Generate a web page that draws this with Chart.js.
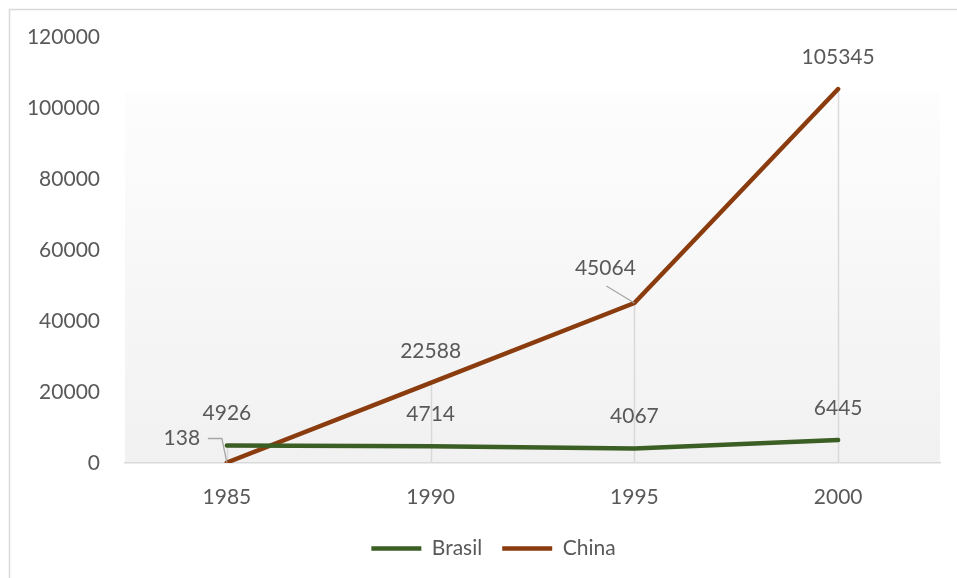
<!DOCTYPE html>
<html lang="pt">
    <head>
        <meta charset="utf-8">
        <title>Brasil x China</title>
        <script src="https://cdn.jsdelivr.net/npm/chart.js"></script>
        <style>
            html, body { margin: 0; padding: 0; background: #ffffff; }
            #wrap { width: 957px; height: 578px; position: relative; }
        </style>
    </head>
    <body>
        <div id="wrap"><canvas id="graph"></canvas></div>
        <script>
            // data
            var years = ['1985', '1990', '1995', '2000'];
            var brasil = [4926, 4714, 4067, 6445];
            var china = [138, 22588, 45064, 105345];
            var yTicks = [0, 20000, 40000, 60000, 80000, 100000, 120000];

            // where each value label sits relative to its point (px)
            var brasilLabelPos = [[0, -32], [0, -32], [0, -32], [0, -32]];
            var chinaLabelPos = [[-45, -24, 'leader138'], [0, -32], [-29, -35, 'leader'], [0, -32]];

            var textColor = '#595959';
            var fontFamily = 'Lato, "Open Sans", sans-serif';

            var decor = {
                id: 'decor',
                afterLayout: function(chart) {
                    // legend sits a little right of the canvas centre
                    chart.legend.left += 15;
                    chart.legend.right += 15;
                },
                beforeDraw: function(chart) {
                    var ctx = chart.ctx, a = chart.chartArea;
                    ctx.save();
                    var top = a.top + a.height * 0.13;
                    var g = ctx.createLinearGradient(0, top, 0, a.bottom);
                    g.addColorStop(0, '#fdfdfd');
                    g.addColorStop(1, '#f1f1f1');
                    ctx.fillStyle = g;
                    ctx.fillRect(a.left, top, a.right - a.left, a.bottom - top);
                    ctx.restore();
                },
                beforeDatasetsDraw: function(chart) {
                    // drop lines from the highest point down to the axis
                    var ctx = chart.ctx, a = chart.chartArea;
                    var x = chart.scales.x, y = chart.scales.y;
                    ctx.save();
                    ctx.strokeStyle = '#d9d9d9';
                    ctx.lineWidth = 1.5;
                    for (var i = 0; i < years.length; i++) {
                        var px = Math.round(x.getPixelForValue(i)) + 0.5;
                        var py = y.getPixelForValue(Math.max(brasil[i], china[i]));
                        ctx.beginPath();
                        ctx.moveTo(px, py);
                        ctx.lineTo(px, a.bottom);
                        ctx.stroke();
                    }
                    ctx.restore();
                },
                afterDatasetsDraw: function(chart) {
                    var ctx = chart.ctx;
                    var x = chart.scales.x, y = chart.scales.y;
                    ctx.save();
                    ctx.font = '21px ' + fontFamily;
                    ctx.fillStyle = textColor;
                    ctx.textAlign = 'center';
                    ctx.textBaseline = 'middle';
                    var sets = [[brasil, brasilLabelPos], [china, chinaLabelPos]];
                    sets.forEach(function(s) {
                        var vals = s[0], pos = s[1];
                        for (var i = 0; i < vals.length; i++) {
                            var px = x.getPixelForValue(i);
                            var py = y.getPixelForValue(vals[i]);
                            var lx = px + pos[i][0], ly = py + pos[i][1];
                            ctx.fillText(String(vals[i]), lx, ly);
                            if (pos[i][2]) {
                                ctx.strokeStyle = '#a6a6a6';
                                ctx.lineWidth = 1.3;
                                ctx.beginPath();
                                if (pos[i][2] == 'leader138') {
                                    ctx.moveTo(lx + 26, ly);
                                    ctx.lineTo(px - 5, ly);
                                    ctx.lineTo(px, py);
                                } else {
                                    ctx.moveTo(lx + 1, ly + 18);
                                    ctx.lineTo(px, py);
                                }
                                ctx.stroke();
                            }
                        }
                    });
                    ctx.restore();
                },
                afterDraw: function(chart) {
                    var ctx = chart.ctx;
                    ctx.save();
                    ctx.strokeStyle = '#d9d9d9';
                    ctx.lineWidth = 1.5;
                    ctx.strokeRect(9.5, 9.5, 1200, 1200);
                    ctx.restore();
                }
            };

            var ctx = document.getElementById('graph').getContext('2d');
            var graph = new Chart(ctx, {
                type: 'line',
                data: {
                    labels: years,
                    datasets: [{
                        label: 'Brasil',
                        data: brasil,
                        borderColor: '#3b5e24',
                        backgroundColor: '#3b5e24',
                        borderWidth: 4.5,
                        borderCapStyle: 'round',
                        borderJoinStyle: 'round',
                        pointRadius: 0,
                        tension: 0
                    }, {
                        label: 'China',
                        data: china,
                        borderColor: '#8a3c0e',
                        backgroundColor: '#8a3c0e',
                        borderWidth: 4.5,
                        borderCapStyle: 'round',
                        borderJoinStyle: 'round',
                        pointRadius: 0,
                        tension: 0
                    }]
                },
                options: {
                    responsive: true,
                    maintainAspectRatio: false,
                    animation: false,
                    layout: {
                        padding: { left: 17, right: 17, top: 37, bottom: 9 }
                    },
                    scales: {
                        x: {
                            offset: true,
                            grid: { display: false },
                            border: { display: true, color: '#d9d9d9', width: 1.5 },
                            ticks: {
                                color: textColor,
                                font: { family: fontFamily, size: 21 },
                                padding: 14,
                                maxRotation: 0
                            },
                            afterFit: function(scale) { scale.height = 55; }
                        },
                        y: {
                            min: 0,
                            max: 120000,
                            grid: { display: false },
                            border: { display: false },
                            afterBuildTicks: function(scale) {
                                scale.ticks = yTicks.map(function(v) { return { value: v }; });
                            },
                            ticks: {
                                color: textColor,
                                font: { family: fontFamily, size: 21 },
                                padding: 17,
                                callback: function(v) { return String(v); }
                            },
                            afterFit: function(scale) { scale.width = 108; }
                        }
                    },
                    plugins: {
                        legend: {
                            position: 'bottom',
                            labels: {
                                color: textColor,
                                font: { family: fontFamily, size: 21 },
                                usePointStyle: true,
                                pointStyle: 'line',
                                pointStyleWidth: 50,
                                boxHeight: 20,
                                padding: 20
                            }
                        },
                        tooltip: { enabled: false }
                    }
                },
                plugins: [decor]
            });
        </script>
    </body>
</html>
